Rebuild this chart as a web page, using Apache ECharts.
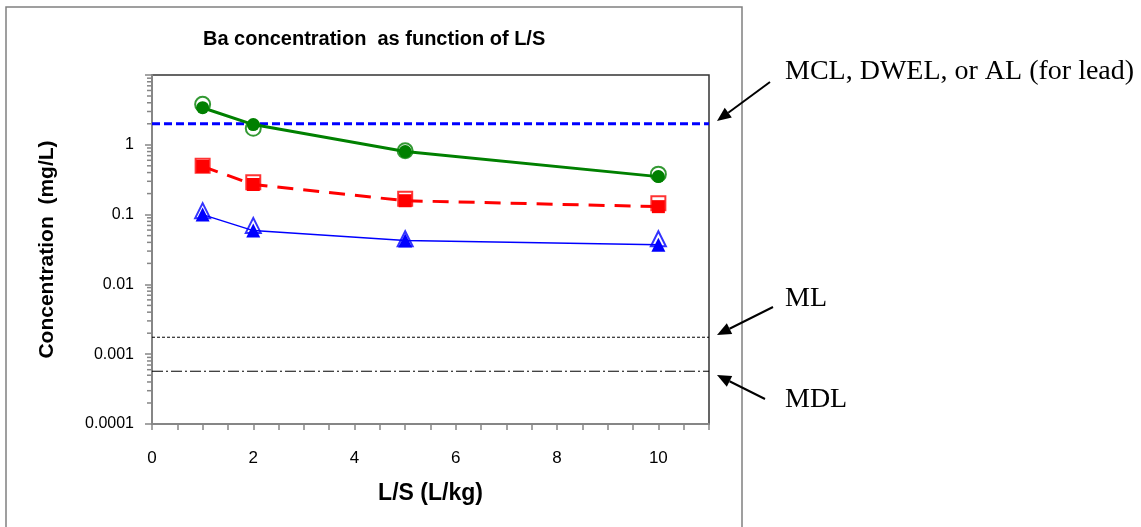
<!DOCTYPE html>
<html>
<head>
<meta charset="utf-8">
<script src="https://cdn.jsdelivr.net/npm/echarts@6/dist/echarts.min.js"></script>
<style>
  html, body { margin: 0; padding: 0; background: #fff; }
  #chart { width: 1141px; height: 527px; }
</style>
</head>
<body>
<div id="chart"></div>
<script>
// L/S ratios (L/kg)
const lsValues = [1, 2, 5, 10]
// replicate A (filled markers, joined by line) and replicate B (open markers)
const greenA = [3.4, 1.95, 0.80, 0.35]
const greenB = [3.8, 1.72, 0.82, 0.38]
const redA = [0.49, 0.27, 0.158, 0.13]
const redB = [0.50, 0.29, 0.168, 0.145]
const blueA = [0.10, 0.059, 0.0425, 0.037]
const blueB = [0.114, 0.070, 0.045, 0.045]
// reference levels (mg/L)
const mclLevel = 2.0
const mlLevel = 0.00175
const mdlLevel = 0.00057
const xRange = [0, 11]
// axis labels
const yTickLabels = ['0.0001', '0.001', '0.01', '0.1', '1', '']
const decades = [0.0001, 0.001, 0.01, 0.1, 1]
const minorMultiples = [2, 3, 4, 5, 6, 7, 8, 9]

const pairs = (xs, ys) => xs.map((x, i) => [x, ys[i]])
const flatLine = v => xRange.map(x => [x, v])
const minorTicks = []
decades.forEach(d => minorMultiples.forEach(m => minorTicks.push([0, d * m])))

const axisGrey = '#868686'
const tickFont = 'Liberation Sans, Arial, sans-serif'

function arrow (x1, y1, x2, y2) {
  const a = Math.atan2(y2 - y1, x2 - x1)
  const len = 14
  const w = 6
  const bx = x2 - len * Math.cos(a)
  const by = y2 - len * Math.sin(a)
  const px = -Math.sin(a) * w
  const py = Math.cos(a) * w
  return [
    { type: 'line', shape: { x1: x1, y1: y1, x2: bx, y2: by }, style: { stroke: '#000', lineWidth: 2 } },
    { type: 'polygon', shape: { points: [[x2, y2], [bx + px, by + py], [bx - px, by - py]] }, style: { fill: '#000' } }
  ]
}

const noteStyle = { fill: '#000', font: '28px "Liberation Serif", "Times New Roman", serif', textVerticalAlign: 'middle' }

const chart = echarts.init(document.getElementById('chart'))
chart.setOption({
  animation: false,
  backgroundColor: '#fff',
  title: {
    text: 'Ba concentration  as function of L/S',
    left: 203,
    top: 29,
    padding: 0,
    textStyle: { fontFamily: 'Liberation Sans, Arial, sans-serif', fontSize: 20, fontWeight: 'bold', color: '#000' }
  },
  grid: {
    left: 152,
    top: 75,
    right: 432,
    bottom: 103,
    show: true,
    borderColor: '#333',
    borderWidth: 1.5
  },
  xAxis: {
    type: 'value',
    min: xRange[0],
    max: xRange[1],
    interval: 0.5,
    name: 'L/S (L/kg)',
    nameLocation: 'middle',
    nameGap: 58,
    nameTextStyle: { fontFamily: tickFont, fontSize: 23, fontWeight: 'bold', color: '#000' },
    axisLine: { lineStyle: { color: axisGrey, width: 2 } },
    axisTick: { length: 6, inside: false, lineStyle: { color: axisGrey, width: 1.5 } },
    axisLabel: {
      margin: 26,
      fontFamily: tickFont,
      fontSize: 17,
      color: '#000',
      formatter: v => (v % 2 === 0 && v <= 10) ? String(v) : ''
    },
    splitLine: { show: false }
  },
  yAxis: {
    type: 'log',
    logBase: 10,
    min: 0.0001,
    max: 10,
    name: 'Concentration  (mg/L)',
    nameLocation: 'middle',
    nameGap: 94,
    nameTextStyle: { fontFamily: 'Liberation Sans, Arial, sans-serif', fontSize: 21, fontWeight: 'bold', color: '#000' },
    axisLine: { show: true, lineStyle: { color: axisGrey, width: 2 } },
    axisTick: { show: true, length: 7, lineStyle: { color: axisGrey, width: 1.5 } },
    axisLabel: {
      margin: 18,
      fontFamily: tickFont,
      fontSize: 16,
      color: '#000',
      formatter: (v, i) => yTickLabels[i] === undefined ? '' : yTickLabels[i]
    },
    splitLine: { show: false }
  },
  series: [
    {
      type: 'custom',
      name: 'minor ticks',
      clip: false,
      silent: true,
      data: minorTicks,
      renderItem (params, api) {
        const p = api.coord([0, api.value(1)])
        return {
          type: 'line',
          shape: { x1: p[0] - 5, y1: p[1], x2: p[0] - 1, y2: p[1] },
          style: { stroke: axisGrey, lineWidth: 1.5 }
        }
      }
    },
    {
      type: 'line', name: 'MCL', data: flatLine(mclLevel), symbol: 'none', z: 1,
      lineStyle: { color: '#0000ff', width: 3, type: [8, 4] }
    },
    {
      type: 'line', name: 'ML', data: flatLine(mlLevel), symbol: 'none', z: 1,
      lineStyle: { color: '#000', width: 1, type: [3, 2] }
    },
    {
      type: 'line', name: 'MDL', data: flatLine(mdlLevel), symbol: 'none', z: 1,
      lineStyle: { color: '#000', width: 1, type: [11, 3, 2, 3] }
    },
    {
      type: 'line', name: 'Ba A (green)', data: pairs(lsValues, greenA),
      symbol: 'circle', symbolSize: 13,
      itemStyle: { color: '#008000' },
      lineStyle: { color: '#008000', width: 3 }
    },
    {
      type: 'scatter', name: 'Ba B (green)', data: pairs(lsValues, greenB),
      symbol: 'circle', symbolSize: 15,
      itemStyle: { color: 'rgba(0,0,0,0)', borderColor: '#008000', borderWidth: 2 }
    },
    {
      type: 'line', name: 'Ba A (red)', data: pairs(lsValues, redA),
      symbol: 'rect', symbolSize: 13,
      itemStyle: { color: '#ff0000' },
      lineStyle: { color: '#ff0000', width: 3, type: [16, 10] }
    },
    {
      type: 'scatter', name: 'Ba B (red)', data: pairs(lsValues, redB),
      symbol: 'rect', symbolSize: 14,
      itemStyle: { color: 'rgba(0,0,0,0)', borderColor: '#ff0000', borderWidth: 2 }
    },
    {
      type: 'line', name: 'Ba A (blue)', data: pairs(lsValues, blueA),
      symbol: 'triangle', symbolSize: 14,
      itemStyle: { color: '#0000ff' },
      lineStyle: { color: '#0000ff', width: 1.5 }
    },
    {
      type: 'scatter', name: 'Ba B (blue)', data: pairs(lsValues, blueB),
      symbol: 'triangle', symbolSize: 15,
      itemStyle: { color: 'rgba(0,0,0,0)', borderColor: '#0000ff', borderWidth: 2 }
    }
  ],
  graphic: [
    { type: 'rect', shape: { x: 6, y: 7, width: 736, height: 600 }, style: { fill: 'none', stroke: '#808080', lineWidth: 1.5 }, z: -1 },
    ...arrow(770, 82, 717, 121),
    ...arrow(773, 307, 717, 335),
    ...arrow(765, 399, 717, 375),
    { type: 'text', left: 785, top: 58, style: Object.assign({ text: 'MCL, DWEL, or AL (for lead)' }, noteStyle) },
    { type: 'text', left: 785, top: 285, style: Object.assign({ text: 'ML' }, noteStyle) },
    { type: 'text', left: 785, top: 386, style: Object.assign({ text: 'MDL' }, noteStyle) }
  ]
})
</script>
</body>
</html>
